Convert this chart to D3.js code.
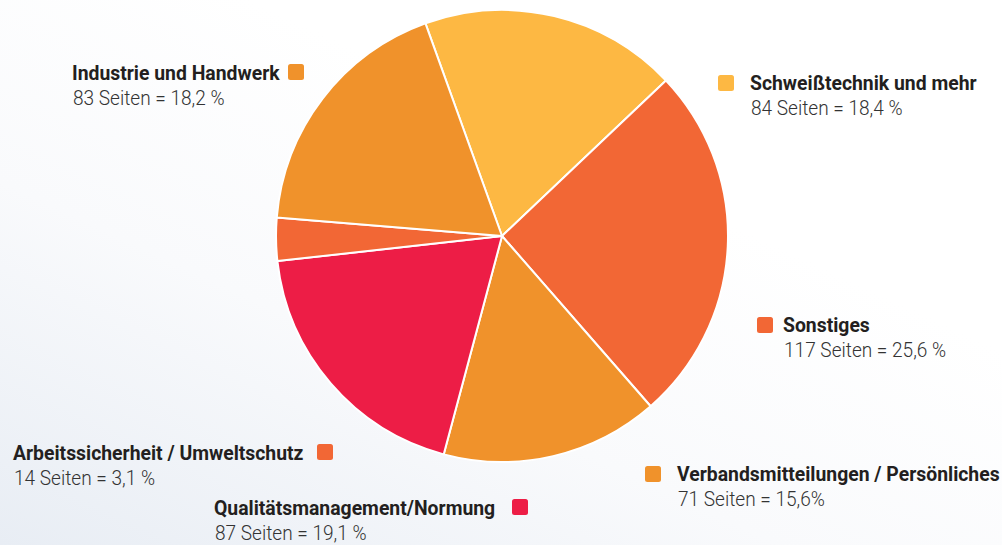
<!DOCTYPE html>
<html>
<head>
<meta charset="utf-8">
<script src="https://cdn.jsdelivr.net/npm/d3@7"></script>
<style>
  body { margin: 0; background: #fff; }
  svg { display: block; }
</style>
</head>
<body>
<div id="chart"></div>
<script>
// chart values, clockwise from the top
var categories = ["Schweißtechnik und mehr", "Sonstiges", "Verbandsmitteilungen / Persönliches",
                  "Qualitätsmanagement/Normung", "Arbeitssicherheit / Umweltschutz", "Industrie und Handwerk"];
var pages = [84, 117, 71, 87, 14, 83];
var percentLabels = ["18,4 %", "25,6 %", "15,6%", "19,1 %", "3,1 %", "18,2 %"];
var colors = ["#fdb843", "#f26735", "#f0922b", "#ed1d46", "#f26735", "#f0922b"];

var W = 1002, H = 545;
var cx = 502, cy = 236, radius = 226;

var svg = d3.select("#chart").append("svg")
            .attr("width", W)
            .attr("height", H);

// soft background wash
var defs = svg.append("defs");
var grad = defs.append("linearGradient")
               .attr("id", "bg")
               .attr("x1", "0").attr("y1", "1")
               .attr("x2", "0.6").attr("y2", "0.3");
grad.append("stop").attr("offset", "0").attr("stop-color", "#e8edf4");
grad.append("stop").attr("offset", "0.55").attr("stop-color", "#f9fafc");
grad.append("stop").attr("offset", "1").attr("stop-color", "#ffffff");
svg.append("rect").attr("width", W).attr("height", H).attr("fill", "url(#bg)");

var data = categories.map(function(c, i){
    return {name: c, pages: pages[i], pct: percentLabels[i], color: colors[i]};
});

var pie = d3.pie()
            .sort(null)
            .value(function(d){ return d.pages; })
            .startAngle(-19.8 * Math.PI / 180)
            .endAngle((360 - 19.8) * Math.PI / 180);

var arc = d3.arc().innerRadius(0).outerRadius(radius);

svg.append("g")
   .attr("transform", "translate(" + cx + "," + cy + ")")
   .selectAll("path")
   .data(pie(data))
   .join("path")
   .attr("d", arc)
   .attr("fill", function(d){ return d.data.color; })
   .attr("stroke", "#fff")
   .attr("stroke-width", 2)
   .attr("stroke-linejoin", "round");

// label layout: text x, bold baseline y, square top-left
var labelPos = [
  {x: 750, y: 90,  sq: [718, 75]},
  {x: 783, y: 332, sq: [757, 317]},
  {x: 677, y: 481, sq: [645, 466]},
  {x: 214, y: 515, sq: [512, 499]},
  {x: 13,  y: 460, sq: [317, 444]},
  {x: 72,  y: 80,  sq: [288, 64]}
];

var font = "Roboto, 'Liberation Sans', sans-serif";
var squeezeBold = 0.945;   // condensed look
var squeezeLight = 0.93;

var labels = svg.append("g").selectAll("g")
                .data(data)
                .join("g");

labels.append("rect")
      .attr("x", function(d, i){ return labelPos[i].sq[0]; })
      .attr("y", function(d, i){ return labelPos[i].sq[1]; })
      .attr("width", 16).attr("height", 16)
      .attr("rx", 2.5)
      .attr("fill", function(d){ return d.color; });

labels.append("text")
      .attr("transform", function(d, i){
          return "translate(" + labelPos[i].x + "," + labelPos[i].y + ") scale(" + squeezeBold + ",1)";
      })
      .attr("font-family", font)
      .attr("font-weight", "bold")
      .attr("font-size", 20.5)
      .attr("fill", "#231f20")
      .text(function(d){ return d.name; });

labels.append("text")
      .attr("transform", function(d, i){
          return "translate(" + (labelPos[i].x + 1) + "," + (labelPos[i].y + 25) + ") scale(" + squeezeLight + ",1)";
      })
      .attr("font-family", font)
      .attr("font-weight", 300)
      .attr("font-size", 20.5)
      .attr("fill", "#333333")
      .text(function(d){ return d.pages + " Seiten = " + d.pct; });
</script>
</body>
</html>
